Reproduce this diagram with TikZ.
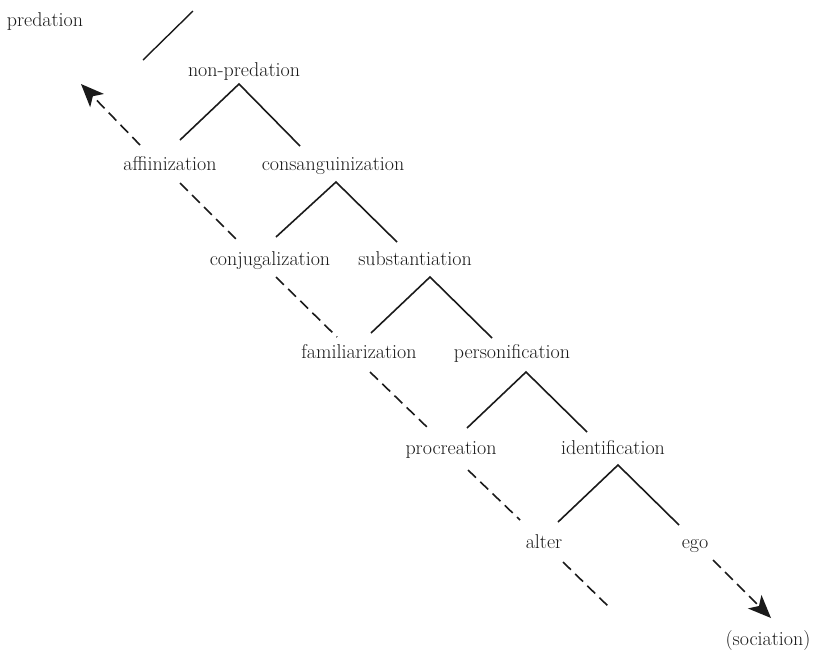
\documentclass[tikz,border=0pt]{standalone}
\usetikzlibrary{arrows.meta}
\definecolor{ink}{HTML}{1A1A1A}
\begin{document}
\begin{tikzpicture}[x=1pt,y=-1pt,
  lbl/.style={anchor=base,inner sep=0pt,text=ink,font=\fontsize{20}{22}\selectfont},
  branch/.style={draw=ink,line width=1.6pt},
  dashline/.style={draw=ink,line width=1.6pt,dash pattern=on 11pt off 6pt},
  tip/.style={-{Stealth[length=23pt,width=19pt,inset=6pt]}}]
\useasboundingbox (0,0) rectangle (813,649);
% labels
\node[lbl] (pred) at (45,26) {predation};
\node[lbl] (nonpred) at (244,76) {non-predation};
\node[lbl] (affin) at (170,170) {affiinization};
\node[lbl] (consang) at (333,170) {consanguinization};
\node[lbl] (conjug) at (270,265) {conjugalization};
\node[lbl] (subst) at (415,265) {substantiation};
\node[lbl] (famil) at (359,358) {familiarization};
\node[lbl] (person) at (512,358) {personification};
\node[lbl] (procr) at (451,454) {procreation};
\node[lbl] (ident) at (613,454) {identification};
\node[lbl] (alter) at (544,548) {alter};
\node[lbl] (ego) at (695,548) {ego};
\node[lbl] (soc) at (768,645) {(sociation)};
% tree coordinates
\coordinate (a1) at (239,84);  \coordinate (l1) at (180,140); \coordinate (r1) at (300,146);
\coordinate (a2) at (336,182); \coordinate (l2) at (276,237); \coordinate (r2) at (397,242);
\coordinate (a3) at (430,277); \coordinate (l3) at (371,333); \coordinate (r3) at (492,338);
\coordinate (a4) at (526,372); \coordinate (l4) at (467,428); \coordinate (r4) at (587,432);
\coordinate (a5) at (618,465); \coordinate (l5) at (558,522); \coordinate (r5) at (679,525);
\draw[branch] (l1) -- (a1) -- (r1);
\draw[branch] (l2) -- (a2) -- (r2);
\draw[branch] (l3) -- (a3) -- (r3);
\draw[branch] (l4) -- (a4) -- (r4);
\draw[branch] (l5) -- (a5) -- (r5);
% top slash
\coordinate (s1) at (143,60); \coordinate (s2) at (193,11);
\draw[branch,line width=1.4pt] (s1) -- (s2);
% dashed diagonal
\coordinate (d0) at (140,145); \coordinate (tipA) at (81,84);
\coordinate (d1a) at (180,183); \coordinate (d1b) at (240,243);
\coordinate (d2a) at (276,277); \coordinate (d2b) at (337,337);
\coordinate (d3a) at (370,372); \coordinate (d3b) at (428,428);
\coordinate (d4a) at (468,470); \coordinate (d4b) at (520,520);
\coordinate (d5a) at (563,562); \coordinate (d5b) at (610,608);
\draw[dashline,tip] (d0) -- (tipA);
\draw[dashline] (d1a) -- (d1b);
\draw[dashline] (d2a) -- (d2b);
\draw[dashline] (d3a) -- (d3b);
\draw[dashline] (d4a) -- (d4b);
\draw[dashline] (d5a) -- (d5b);
% ego arrow
\coordinate (e0) at (713,560); \coordinate (tipB) at (771,618);
\draw[dashline,tip] (e0) -- (tipB);
\end{tikzpicture}
\end{document}
